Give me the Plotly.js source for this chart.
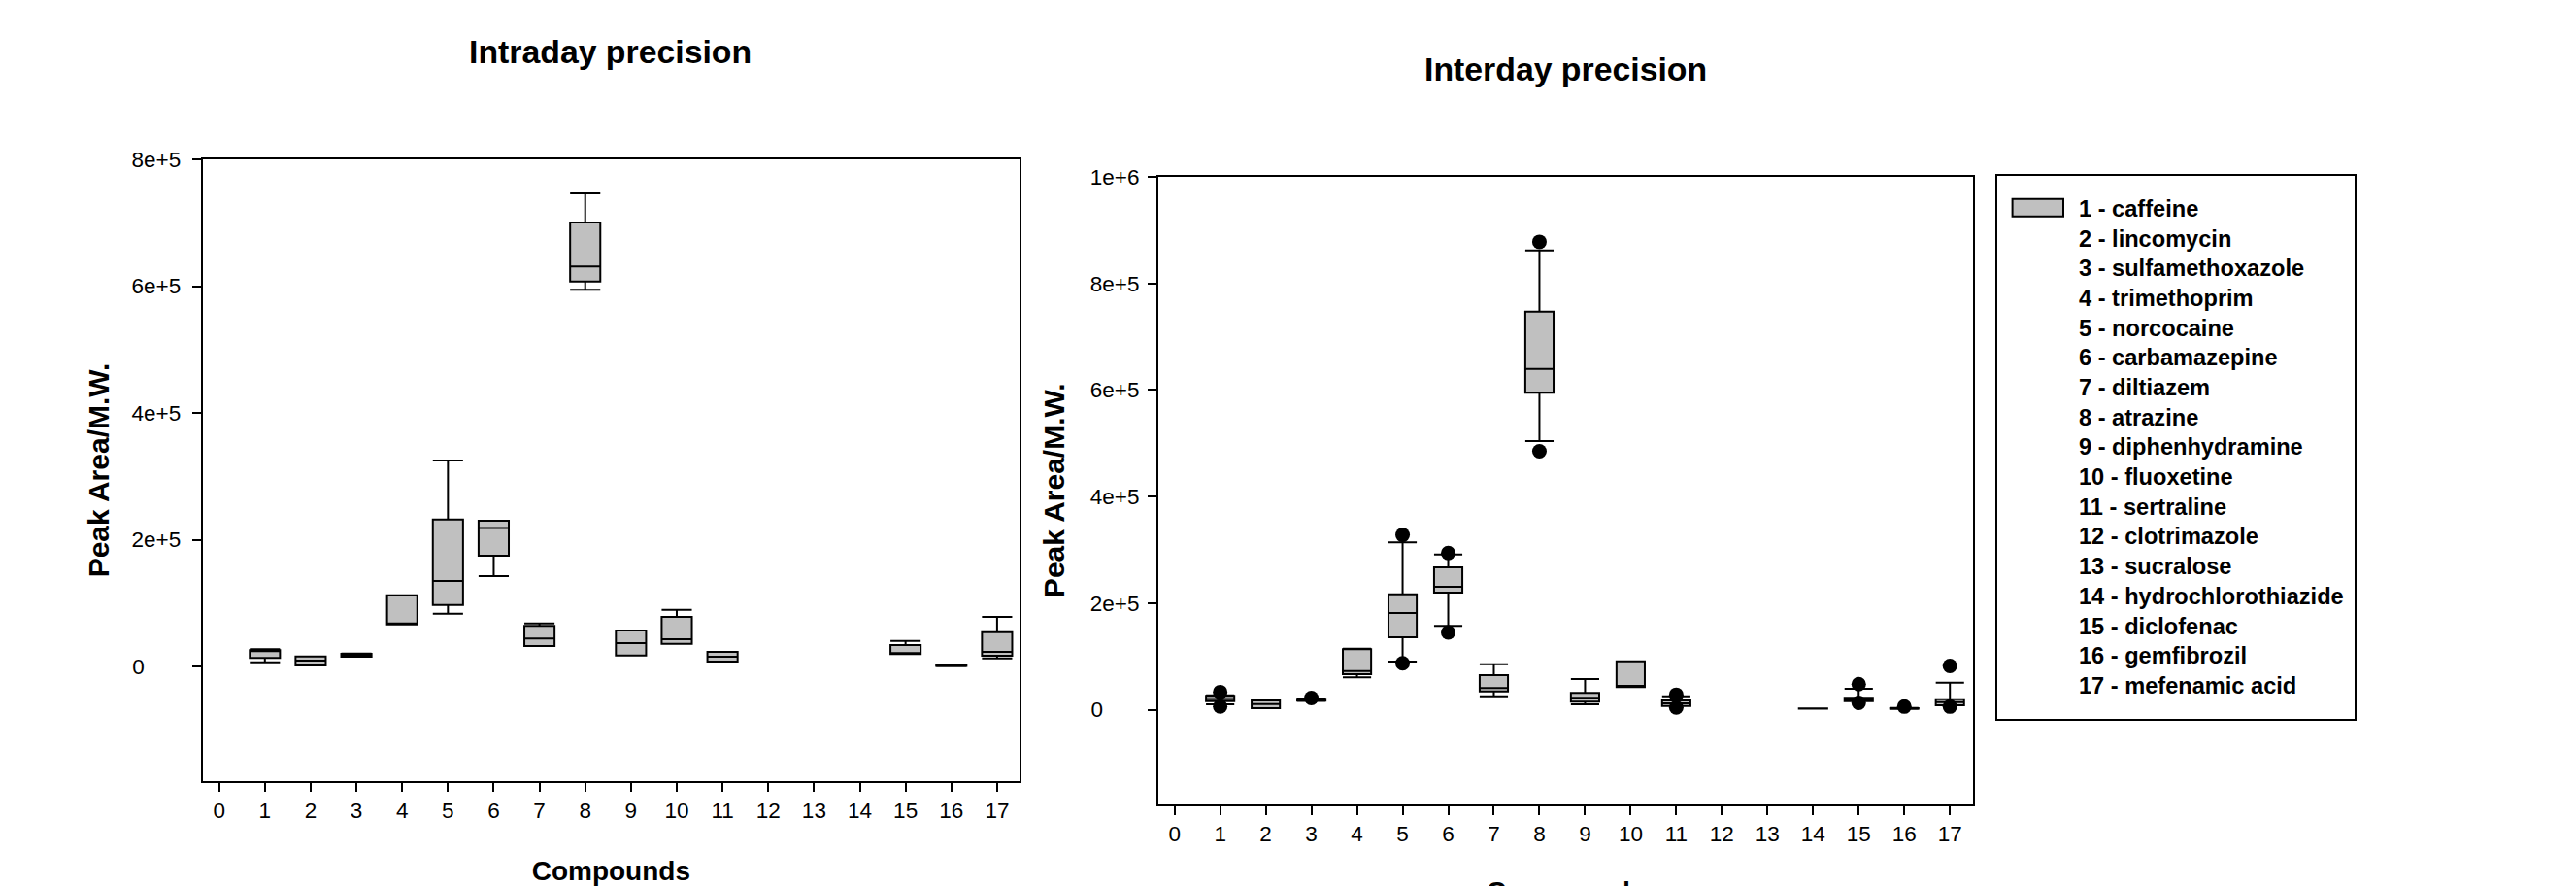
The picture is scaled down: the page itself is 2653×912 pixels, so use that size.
<!DOCTYPE html>
<html><head><meta charset="utf-8">
<script src="https://cdn.plot.ly/plotly-3.0.1.min.js"></script>
<style>html,body{margin:0;padding:0;background:#fff;overflow:hidden}</style>
</head><body><div id="chart" style="width:2653px;height:912px"></div>
<script>
// ---------- data ----------
const xTickVals = [0,1,2,3,4,5,6,7,8,9,10,11,12,13,14,15,16,17];
const xTickLabels = ["0","1","2","3","4","5","6","7","8","9","10","11","12","13","14","15","16","17"];

const intraTickVals = [0,200000,400000,600000,800000];
const intraTickLabels = ["0","2e+5","4e+5","6e+5","8e+5"];
const interTickVals = [0,200000,400000,600000,800000,1000000];
const interTickLabels = ["0","2e+5","4e+5","6e+5","8e+5","1e+6"];

const compoundNames = ["1 - caffeine","2 - lincomycin","3 - sulfamethoxazole","4 - trimethoprim",
  "5 - norcocaine","6 - carbamazepine","7 - diltiazem","8 - atrazine","9 - diphenhydramine",
  "10 - fluoxetine","11 - sertraline","12 - clotrimazole","13 - sucralose",
  "14 - hydrochlorothiazide","15 - diclofenac","16 - gemfibrozil","17 - mefenamic acid"];

// Intraday precision
const intraX    = [1,2,3,4,5,6,7,8,9,10,11,15,16,17];
const intraLow  = [6600,1500,15300,66400,83300,142500,32200,594200,17400,35800,7700,19400,500,12800];
const intraQ1   = [13300,1500,15500,66400,97000,174700,32200,607400,17400,35800,7700,19400,800,16900];
const intraMed  = [24000,9200,18000,66400,134900,218600,44000,631000,36800,42900,15300,20500,1500,23000];
const intraQ3   = [25600,15800,20000,112300,231900,230000,63900,700400,56700,78200,23000,33700,2200,54100];
const intraHigh = [27100,15800,20400,112300,325000,230000,67900,746400,56700,89400,23000,40300,2500,78200];

// Interday precision
const interX    = [1,2,3,4,5,6,7,8,9,10,11,14,15,16,17];
const interLow  = [10000,2700,16500,60500,90200,157100,25200,504100,10000,42300,7000,1800,16000,1500,8200];
const interQ1   = [16000,2700,17000,66500,135800,219700,34300,594700,14900,42300,7000,1900,16000,1800,8200];
const interMed  = [20000,10600,19000,72600,181400,230600,40400,639600,22200,44700,12000,2200,19000,2200,14200];
const interQ3   = [26000,17300,20500,113400,216600,267100,64700,747200,31300,90800,17300,2400,22200,2600,19700];
const interHigh = [27000,17300,21000,114500,313900,291400,85300,862000,57400,90800,25200,2500,39200,3000,50700];
const interOutX = [1,1,3,5,5,6,6,8,8,11,11,15,15,16,17,17];
const interOutY = [33000,6000,22000,328000,87000,294000,145000,878000,485000,28000,4000,48000,13000,5800,82000,5800];

// ---------- chart ----------
const FONT = "Liberation Sans";
const W = 2653, H = 912;
const px = v => v / W;          // paper x from pixel
const py = v => 1 - v / H;      // paper y from pixel (top-based)
const pad = t => t.padEnd(4, "\u2007");   // left-aligned tick labels, as in the reference

const boxStyle = {
  type: "box",
  fillcolor: "#c0c0c0",
  line: {color: "#000", width: 2},
  whiskerwidth: 1,
  hoverinfo: "skip",
  showlegend: false
};

const traces = [
  Object.assign({}, boxStyle, {
    name: "Intraday precision",
    x: intraX, q1: intraQ1, median: intraMed, q3: intraQ3,
    lowerfence: intraLow, upperfence: intraHigh,
    width: 0.66, xaxis: "x", yaxis: "y"
  }),
  Object.assign({}, boxStyle, {
    name: "Interday precision",
    x: interX, q1: interQ1, median: interMed, q3: interQ3,
    lowerfence: interLow, upperfence: interHigh,
    width: 0.62, xaxis: "x2", yaxis: "y2"
  }),
  {
    type: "scatter", mode: "markers", name: "outliers",
    x: interOutX, y: interOutY,
    xaxis: "x2", yaxis: "y2", showlegend: false, hoverinfo: "skip",
    marker: {color: "#000", size: 15, symbol: "circle"}
  }
];

function xAxis(domain, range, title) {
  return {
    domain: domain, range: range, tickmode: "array",
    tickvals: xTickVals, ticktext: xTickLabels,
    ticks: "outside", ticklen: 9, tickwidth: 2, tickcolor: "#000",
    ticklabelstandoff: 11.9,
    showline: true, linecolor: "#000", linewidth: 2, mirror: true,
    showgrid: false, zeroline: false,
    tickfont: {family: FONT, size: 22.5, color: "#000"},
    title: {text: title, standoff: 40,
            font: {family: FONT, size: 28, color: "#000", weight: "bold"}}
  };
}
function yAxis(domain, range, vals, labels, anchor, labelStandoff, titleStandoff) {
  return {
    domain: domain, range: range, anchor: anchor, tickmode: "array",
    tickvals: vals, ticktext: labels.map(pad),
    ticks: "outside", ticklen: 9, tickwidth: 2, tickcolor: "#000",
    ticklabelstandoff: labelStandoff,
    showline: true, linecolor: "#000", linewidth: 2, mirror: true,
    showgrid: false, zeroline: false,
    tickfont: {family: FONT, size: 22.5, color: "#000"},
    title: {text: "Peak Area/M.W.", standoff: titleStandoff,
            font: {family: FONT, size: 30, color: "#000", weight: "bold"}}
  };
}

const titleFont = {family: FONT, size: 33.8, color: "#000", weight: "bold"};

const layout = {
  width: W, height: H,
  margin: {l: 0, r: 0, t: 0, b: 0},
  paper_bgcolor: "#fff", plot_bgcolor: "#fff",
  font: {family: FONT, color: "#000"},
  showlegend: false,
  xaxis:  Object.assign(xAxis([px(208.7), px(1050)], [-0.36, 17.49], "Compounds"), {anchor: "y"}),
  yaxis:  yAxis([py(804), py(164)], [-180800, 800000], intraTickVals, intraTickLabels, "x", 7, 14.3),
  xaxis2: Object.assign(xAxis([px(1193), px(2031.7)], [-0.355, 17.5], ""), {anchor: "y2"}),
  yaxis2: yAxis([py(827.6), py(182)], [-177000, 1000000], interTickVals, interTickLabels, "x2", 4, 17.5),
  shapes: [
    // legend frame and swatch
    {type: "rect", xref: "paper", yref: "paper", x0: px(2056), x1: px(2426), y0: py(741), y1: py(180),
     line: {color: "#000", width: 2}, fillcolor: "rgba(0,0,0,0)"},
    {type: "rect", xref: "paper", yref: "paper", x0: px(2072.6), x1: px(2125), y0: py(222.7), y1: py(204.7),
     line: {color: "#000", width: 2}, fillcolor: "#c0c0c0"}
  ],
  annotations: [
    {text: "Intraday precision", xref: "paper", yref: "paper", x: px(628), y: py(53),
     xanchor: "center", yanchor: "middle", showarrow: false, font: titleFont},
    {text: "Interday precision", xref: "paper", yref: "paper", x: px(1612), y: py(70.9),
     xanchor: "center", yanchor: "middle", showarrow: false, font: titleFont},
    {text: "Compounds", xref: "paper", yref: "paper", x: px(1612), y: py(900),
     xanchor: "center", yanchor: "top", showarrow: false,
     font: {family: FONT, size: 28, color: "#000", weight: "bold"}},
    {text: compoundNames.join("<br>"), xref: "paper", yref: "paper", x: px(2140), y: py(201.3),
     xanchor: "left", yanchor: "top", align: "left", showarrow: false, borderpad: 0,
     font: {family: FONT, size: 23.6, color: "#000", weight: "bold"}}
  ]
};

Plotly.newPlot("chart", traces, layout, {staticPlot: true, displayModeBar: false});
</script>
</body></html>
